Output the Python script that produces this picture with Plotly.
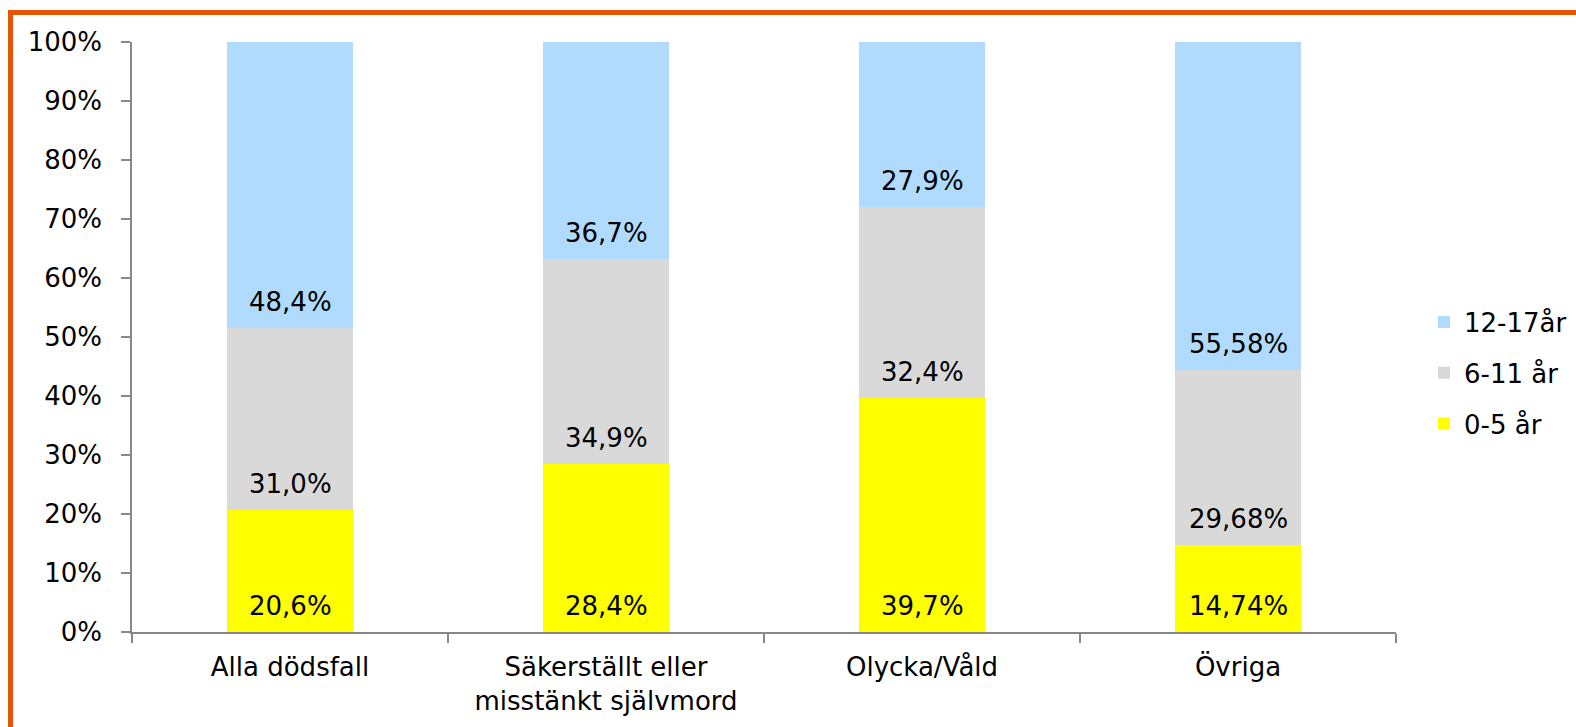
import plotly.graph_objects as go

categories = ["Alla dödsfall", "Säkerställt eller<br>misstänkt självmord", "Olycka/Våld", "Övriga"]
series_names = ["0-5 år", "6-11 år", "12-17år"]
values_0_5 = [20.6, 28.4, 39.7, 14.74]
values_6_11 = [31.0, 34.9, 32.4, 29.68]
values_12_17 = [48.4, 36.7, 27.9, 55.58]
labels_0_5 = ["20,6%", "28,4%", "39,7%", "14,74%"]
labels_6_11 = ["31,0%", "34,9%", "32,4%", "29,68%"]
labels_12_17 = ["48,4%", "36,7%", "27,9%", "55,58%"]
colors = ["#FFFF00", "#D9D9D9", "#B0DBFE"]
y_ticks = list(range(0, 101, 10))
y_ticktext = [f"{v}%" for v in y_ticks]

FONT = "DejaVu Sans"
FS = 26
W, H = 1576, 727
fig = go.Figure()
all_vals = [values_0_5, values_6_11, values_12_17]
all_labs = [labels_0_5, labels_6_11, labels_12_17]
annotations = []
bases = [0.0] * len(categories)
for i, (name, vals, labs, col) in enumerate(zip(series_names, all_vals, all_labs, colors)):
    fig.add_trace(go.Bar(
        x=categories, y=vals, name=name, legendgroup=name, legendrank=len(series_names) - i,
        marker=dict(color=col, line=dict(width=0)),
        hoverinfo="x+y+name",
    ))
    for j, cat in enumerate(categories):
        annotations.append(dict(
            x=cat, y=bases[j], xref="x", yref="y", text=labs[j],
            showarrow=False, yanchor="bottom", xanchor="center", yshift=9,
            font=dict(family=FONT, size=FS, color="black")))
        bases[j] += vals[j]

fig.update_layout(
    barmode="stack", bargap=0.6,
    width=W, height=H,
    margin=dict(l=132, r=180, t=42, b=95, autoexpand=False),
    paper_bgcolor="white", plot_bgcolor="white",
    font=dict(family=FONT, size=FS, color="black"),
    showlegend=True,
    legend=dict(xref="container", yref="container",
                x=1424 / W, y=1 - 373 / H, yanchor="middle", xanchor="left",
                traceorder="grouped", tracegroupgap=14,
                font=dict(family=FONT, size=FS, color="black"),
                itemwidth=30),
    annotations=annotations,
    xaxis=dict(showline=True, linecolor="#888888", linewidth=1.5,
               ticks="outside", tickson="boundaries", ticklen=9,
               tickcolor="#888888", tickwidth=1.5, showgrid=False,
               ticklabelstandoff=11,
               tickfont=dict(family=FONT, size=FS, color="black")),
    yaxis=dict(range=[0, 100], tickmode="array", tickvals=y_ticks, ticktext=y_ticktext,
               showline=True, linecolor="#888888", linewidth=1.5,
               ticks="outside", ticklen=9, tickcolor="#888888", tickwidth=1.5,
               showgrid=False, zeroline=False, ticklabelstandoff=14,
               tickfont=dict(family=FONT, size=FS, color="black")),
    shapes=[dict(type="rect", xref="paper", yref="paper",
                 x0=(10.5 - 132) / 1264, x1=2.0,
                 y0=-1.0, y1=(632 - 12.5) / 590,
                 line=dict(color="#E45504", width=5), fillcolor="rgba(0,0,0,0)",
                 layer="above")],
)

fig.write_html("out.html", config={"displayModeBar": False},
               post_script="document.body.style.margin='0px';document.body.style.overflow='hidden';")
